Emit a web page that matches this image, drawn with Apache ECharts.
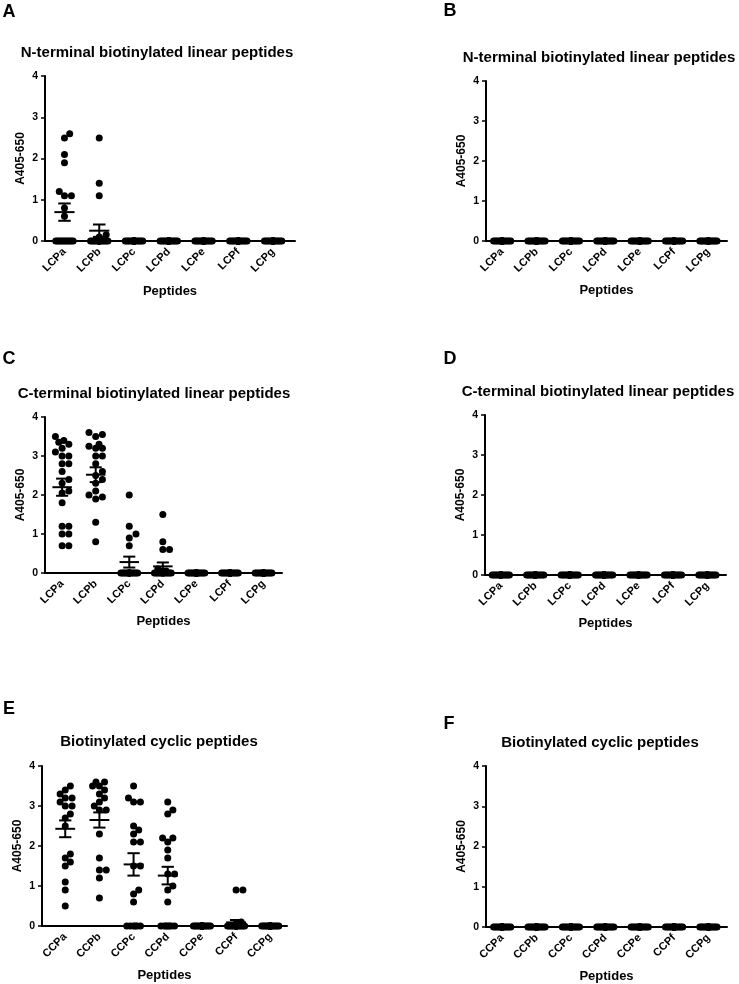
<!DOCTYPE html>
<html>
<head>
<meta charset="utf-8">
<script src="https://cdn.jsdelivr.net/npm/echarts@6/dist/echarts.min.js"></script>
<style>html,body{margin:0;padding:0;background:#fff;}#chart{width:739px;height:984px;}</style>
</head>
<body>
<div id="chart"></div>
<script>
// ---------- data ----------
const lcpCats = ['LCPa', 'LCPb', 'LCPc', 'LCPd', 'LCPe', 'LCPf', 'LCPg'];
const ccpCats = ['CCPa', 'CCPb', 'CCPc', 'CCPd', 'CCPe', 'CCPf', 'CCPg'];
const yTicks = [0, 1, 2, 3, 4];
const yAxisTitle = 'A405-650';
const xAxisTitle = 'Peptides';
const titleN = 'N-terminal biotinylated linear peptides';
const titleC = 'C-terminal biotinylated linear peptides';
const titleCyc = 'Biotinylated cyclic peptides';
const panelLetters = ['A', 'B', 'C', 'D', 'E', 'F'];

const zeros20 = [0,0,0,0,0,0,0,0,0,0,0,0,0,0,0,0,0,0,0,0];

// Panel A
const aLCPa = [2.6,2.5,2.1,1.9,1.2,1.1,1.1,0.8,0.6,0,0,0,0,0,0,0,0,0,0,0];
const aLCPb = [2.5,1.4,1.1,0.15,0.1,0,0,0,0,0,0,0,0,0,0,0,0,0,0,0];
const aMean = [0.70, 0.25, 0, 0, 0, 0, 0];
const aSem  = [0.21, 0.15, 0, 0, 0, 0, 0];

// Panel B (all zero)
const bMean = [0, 0, 0, 0, 0, 0, 0];
const bSem  = [0, 0, 0, 0, 0, 0, 0];

// Panel C
const cLCPa = [3.5,3.4,3.35,3.3,3.2,3.1,3.0,3.0,2.8,2.8,2.6,2.4,2.3,2.1,2.05,1.8,1.2,1.2,1.0,1.0,0.7,0.7];
const cLCPb = [3.6,3.55,3.5,3.3,3.25,3.2,3.2,3.0,3.0,2.8,2.6,2.5,2.4,2.3,2.1,2.0,1.95,1.9,1.3,0.8];
const cLCPc = [2.0,1.2,1.0,0.9,0.7,0,0,0,0,0,0,0,0,0,0,0,0,0,0,0];
const cLCPd = [1.5,0.8,0.6,0.6,0.1,0.05,0.05,0,0,0,0,0,0,0,0,0,0,0,0,0];
const cMean = [2.20, 2.52, 0.28, 0.17, 0, 0, 0];
const cSem  = [0.22, 0.19, 0.14, 0.10, 0, 0, 0];

// Panel D (all zero)
const dMean = [0, 0, 0, 0, 0, 0, 0];
const dSem  = [0, 0, 0, 0, 0, 0, 0];

// Panel E
const eCCPa = [3.5,3.4,3.3,3.2,3.2,3.1,3.0,3.0,2.8,2.7,2.5,1.8,1.7,1.6,1.5,1.1,0.9,0.5];
const eCCPb = [3.6,3.6,3.5,3.5,3.4,3.3,3.2,3.1,3.0,2.9,2.9,2.3,1.7,1.4,1.4,1.2,0.7];
const eCCPc = [3.5,3.2,3.1,3.1,2.5,2.4,2.3,2.1,2.1,1.5,1.5,0.9,0.8,0.6,0,0,0,0,0,0];
const eCCPd = [3.1,2.9,2.8,2.2,2.2,2.1,1.9,1.7,1.3,1.3,1.0,0.9,0.6,0,0,0,0,0,0,0];
const eCCPf = [0.9,0.9,0.1,0.05,0,0,0,0,0,0,0,0,0,0,0,0,0,0,0,0];
const eMean = [2.43, 2.65, 1.54, 1.26, 0, 0.09, 0];
const eSem  = [0.21, 0.19, 0.28, 0.22, 0, 0.06, 0];

// Panel F (all zero)
const fMean = [0, 0, 0, 0, 0, 0, 0];
const fSem  = [0, 0, 0, 0, 0, 0, 0];

// ---------- assembly ----------
const panels = [
  { cats: lcpCats, title: titleN, groups: [aLCPa, aLCPb, zeros20, zeros20, zeros20, zeros20, zeros20], mean: aMean, sem: aSem },
  { cats: lcpCats, title: titleN, groups: [zeros20, zeros20, zeros20, zeros20, zeros20, zeros20, zeros20], mean: bMean, sem: bSem },
  { cats: lcpCats, title: titleC, groups: [cLCPa, cLCPb, cLCPc, cLCPd, zeros20, zeros20, zeros20], mean: cMean, sem: cSem },
  { cats: lcpCats, title: titleC, groups: [zeros20, zeros20, zeros20, zeros20, zeros20, zeros20, zeros20], mean: dMean, sem: dSem },
  { cats: ccpCats, title: titleCyc, groups: [eCCPa, eCCPb, eCCPc, eCCPd, zeros20, eCCPf, zeros20], mean: eMean, sem: eSem },
  { cats: ccpCats, title: titleCyc, groups: [zeros20, zeros20, zeros20, zeros20, zeros20, zeros20, zeros20], mean: fMean, sem: fSem }
];

// layout (pixels)
const layout = [
  { L: 45,  R: 295, T: 76,  B: 241, xmin: -0.56, xmax: 6.63, title: [157, 53],  letter: [9, 12.5],   nameGap: 44 },
  { L: 486, R: 727, T: 81,  B: 241, xmin: -0.47, xmax: 6.54, title: [599, 58],  letter: [450, 11.5], nameGap: 43 },
  { L: 45,  R: 282, T: 417, B: 573, xmin: -0.51, xmax: 6.55, title: [154, 394], letter: [9, 359.5],  nameGap: 42 },
  { L: 485, R: 726, T: 415, B: 575, xmin: -0.46, xmax: 6.54, title: [598, 392], letter: [450, 359.5],nameGap: 42 },
  { L: 42,  R: 287, T: 766, B: 926, xmin: -0.68, xmax: 6.49, title: [159, 742], letter: [9, 709.5],  nameGap: 43 },
  { L: 486, R: 727, T: 766, B: 927, xmin: -0.47, xmax: 6.54, title: [600, 743], letter: [449, 724.5],nameGap: 43 }
];

const FONT = '"Liberation Sans", Arial, Helvetica, sans-serif';

function swarm(vals, idx, pxX, pxY) {
  const sorted = vals.slice().sort((a, b) => a - b);
  const step = 0.05, maxOff = 0.25;
  const cands = [0];
  for (let k = 1; k * step <= maxOff + 1e-9; k++) cands.push(k * step, -k * step);
  const placed = [];
  for (const v of sorted) {
    let best = 0, bestD = -1;
    for (const c of cands) {
      let d = Infinity;
      for (const p of placed) d = Math.min(d, Math.hypot((p[0] - c) * pxX, (p[1] - v) * pxY));
      if (d >= 6.5) { best = c; bestD = d; break; }
      if (d > bestD) { bestD = d; best = c; }
    }
    placed.push([best, v]);
  }
  return placed.map(p => [idx + p[0], p[1]]);
}

const grid = [], xAxis = [], yAxis = [], series = [], graphic = [];

panels.forEach((pn, i) => {
  const ly = layout[i];
  const w = ly.R - ly.L, h = ly.B - ly.T;
  grid.push({ left: ly.L, top: ly.T, width: w, height: h });
  xAxis.push({
    type: 'value', gridIndex: i, min: ly.xmin, max: ly.xmax,
    splitLine: { show: false },
    axisLine: { show: true, onZero: false, lineStyle: { color: '#000', width: 2 } },
    axisTick: { show: false },
    axisLabel: {
      show: true, customValues: [0, 1, 2, 3, 4, 5, 6], rotate: 45, margin: 9,
      formatter: v => pn.cats[Math.round(v)],
      color: '#000', fontFamily: FONT, fontWeight: 'bold', fontSize: 11
    },
    name: xAxisTitle, nameLocation: 'middle', nameGap: ly.nameGap,
    nameTextStyle: { color: '#000', fontFamily: FONT, fontWeight: 'bold', fontSize: 13 }
  });
  yAxis.push({
    type: 'value', gridIndex: i, min: 0, max: 4, interval: 1,
    splitLine: { show: false },
    axisLine: { show: true, onZero: false, lineStyle: { color: '#000', width: 2 } },
    axisTick: { show: true, length: 4, lineStyle: { color: '#000', width: 1.5 } },
    axisLabel: { color: '#000', fontFamily: FONT, fontWeight: 'bold', fontSize: 10.5, margin: 7,
                 customValues: yTicks },
    name: yAxisTitle, nameLocation: 'middle', nameGap: 18,
    nameTextStyle: { color: '#000', fontFamily: FONT, fontWeight: 'bold', fontSize: 12 }
  });
  const pxX = w / (ly.xmax - ly.xmin), pxY = h / 4;
  let pts = [];
  pn.groups.forEach((g, gi) => { pts = pts.concat(swarm(g, gi, pxX, pxY)); });
  series.push({
    type: 'scatter', xAxisIndex: i, yAxisIndex: i, data: pts,
    symbol: 'circle', symbolSize: 7, itemStyle: { color: '#000', opacity: 1 },
    silent: true, animation: false, z: 2
  });
  series.push({
    type: 'custom', xAxisIndex: i, yAxisIndex: i, animation: false, z: 3, silent: true,
    data: pn.mean.map((m, k) => [k, m, pn.sem[k]]),
    renderItem: (params, api) => {
      const x = api.value(0), m = api.value(1), s = api.value(2);
      const c = api.coord([x, m]);
      const hi = api.coord([x, m + s]);
      const lo = api.coord([x, m - s]);
      const hw = api.size([0.29, 0])[0];
      const cw = api.size([0.18, 0])[0];
      const st = { stroke: '#000', lineWidth: 2 };
      return {
        type: 'group',
        children: [
          { type: 'line', shape: { x1: c[0] - hw, y1: c[1], x2: c[0] + hw, y2: c[1] }, style: st },
          { type: 'line', shape: { x1: c[0], y1: hi[1], x2: c[0], y2: lo[1] }, style: st },
          { type: 'line', shape: { x1: c[0] - cw, y1: hi[1], x2: c[0] + cw, y2: hi[1] }, style: st },
          { type: 'line', shape: { x1: c[0] - cw, y1: lo[1], x2: c[0] + cw, y2: lo[1] }, style: st }
        ]
      };
    }
  });
  graphic.push({
    type: 'text', x: ly.title[0], y: ly.title[1],
    style: { text: pn.title, fill: '#000', fontFamily: FONT, fontWeight: 'bold', fontSize: 15,
             align: 'center', verticalAlign: 'middle' }
  });
  graphic.push({
    type: 'text', x: ly.letter[0], y: ly.letter[1],
    style: { text: panelLetters[i], fill: '#000', fontFamily: FONT, fontWeight: 'bold', fontSize: 18,
             align: 'center', verticalAlign: 'middle' }
  });
});

const chart = echarts.init(document.getElementById('chart'), null, { renderer: 'canvas' });
chart.setOption({
  backgroundColor: '#fff',
  animation: false,
  grid, xAxis, yAxis, series, graphic
});
</script>
</body>
</html>
